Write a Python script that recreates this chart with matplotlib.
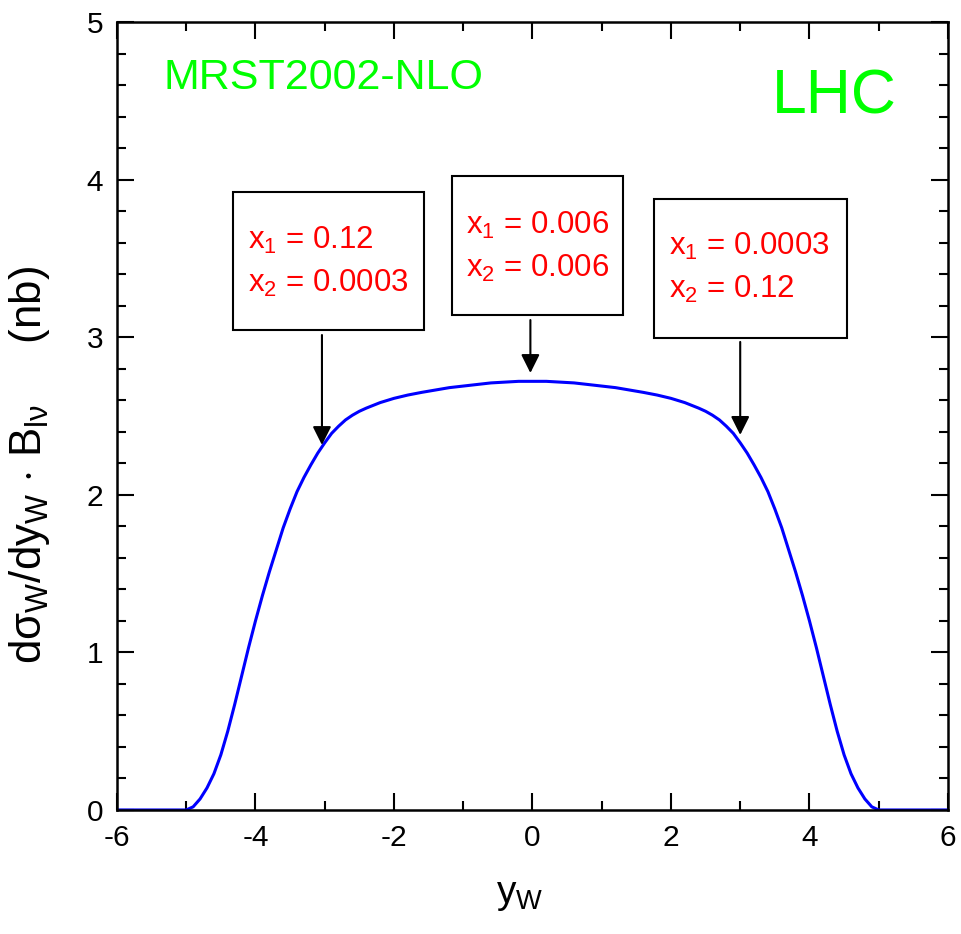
import numpy as np
import matplotlib
matplotlib.use("Agg")
import matplotlib.pyplot as plt
from matplotlib.patches import Rectangle
from matplotlib.ticker import MultipleLocator

plt.rcParams['font.family'] = ['Liberation Sans', 'DejaVu Sans']
plt.rcParams['mathtext.fontset'] = 'custom'
plt.rcParams['mathtext.rm'] = 'Liberation Sans'
plt.rcParams['mathtext.it'] = 'Liberation Sans'
plt.rcParams['mathtext.bf'] = 'Liberation Sans:bold'
plt.rcParams['axes.unicode_minus'] = False

# rapidity distribution
y_w = [-6.0, -5.0, -4.9, -4.8, -4.7, -4.6, -4.5, -4.4, -4.3, -4.2, -4.1,
       -4.0, -3.9, -3.8, -3.7, -3.6, -3.5, -3.4, -3.3, -3.2, -3.1,
       -3.0, -2.9, -2.8, -2.7, -2.6, -2.5, -2.4, -2.2, -2.0, -1.8,
       -1.6, -1.4, -1.2, -1.0, -0.8, -0.6, -0.4, -0.2, 0.0,
       0.2, 0.4, 0.6, 0.8, 1.0, 1.2, 1.4, 1.6, 1.8, 2.0,
       2.2, 2.4, 2.5, 2.6, 2.7, 2.8, 2.9, 3.0,
       3.1, 3.2, 3.3, 3.4, 3.5, 3.6, 3.7, 3.8, 3.9, 4.0,
       4.1, 4.2, 4.3, 4.4, 4.5, 4.6, 4.7, 4.8, 4.9, 5.0, 6.0]
dsig = [0.0, 0.0, 0.02, 0.07, 0.14, 0.23, 0.35, 0.50, 0.67, 0.85, 1.03,
        1.20, 1.36, 1.51, 1.65, 1.79, 1.91, 2.02, 2.11, 2.19, 2.265,
        2.33, 2.39, 2.435, 2.475, 2.505, 2.53, 2.55, 2.585, 2.612, 2.633,
        2.65, 2.665, 2.68, 2.69, 2.70, 2.71, 2.715, 2.72, 2.72,
        2.72, 2.715, 2.71, 2.70, 2.69, 2.68, 2.665, 2.65, 2.633, 2.612,
        2.585, 2.55, 2.53, 2.505, 2.475, 2.435, 2.39, 2.33,
        2.265, 2.19, 2.11, 2.02, 1.91, 1.79, 1.65, 1.51, 1.36, 1.20,
        1.03, 0.85, 0.67, 0.50, 0.35, 0.23, 0.14, 0.07, 0.02, 0.0, 0.0]

# annotation boxes: (x0, y0, x1, y1), text pos, arrow (x, y_start, y_tip)
box_rects = [(-4.325, 3.046, -1.567, 3.921),
             (-1.162, 3.141, 1.307, 4.023),
             (1.755, 2.995, 4.542, 3.877)]
box_labels = [("0.12", "0.0003"), ("0.006", "0.006"), ("0.0003", "0.12")]
text_x = [-4.108, -0.96, 1.971]
text_y1 = [3.617, 3.712, 3.579]
text_y2 = [3.344, 3.439, 3.30]
arrow_x = [-3.04, -0.03, 3.0]
arrow_from = [3.014, 3.109, 2.97]
arrow_to = [2.316, 2.773, 2.38]

fig = plt.figure(figsize=(9.62, 9.34), dpi=100)
ax = fig.add_axes([0.1216, 0.1328, 0.8638, 0.8436])

ax.plot(y_w, dsig, color='#0000ff', lw=2.2)

for (x0, y0, x1, y1), (a, b), tx, ty1, ty2 in zip(box_rects, box_labels, text_x, text_y1, text_y2):
    ax.add_patch(Rectangle((x0, y0), x1 - x0, y1 - y0, fill=False,
                           edgecolor='black', lw=1.5, zorder=3))
    ax.text(tx, ty1, r"x$_1$ = " + a, color='#ff0000', fontsize=22.5, va='center', ha='left')
    ax.text(tx, ty2, r"x$_2$ = " + b, color='#ff0000', fontsize=22.5, va='center', ha='left')

for ax_x, y0, y1 in zip(arrow_x, arrow_from, arrow_to):
    ax.annotate('', xy=(ax_x, y1), xytext=(ax_x, y0),
                arrowprops=dict(arrowstyle='-|>', color='black', lw=1.5,
                                mutation_scale=28, shrinkA=0, shrinkB=0))

ax.text(0.0554, 0.929, "MRST2002-NLO", transform=ax.transAxes, color='#00ff00',
        fontsize=31, va='center', ha='left')
ax.text(0.788, 0.905, "LHC", transform=ax.transAxes, color='#00ff00',
        fontsize=45, va='center', ha='left')

ax.set_xlim(-6, 6)
ax.set_ylim(0, 5)
ax.xaxis.set_major_locator(MultipleLocator(2))
ax.xaxis.set_minor_locator(MultipleLocator(1))
ax.yaxis.set_major_locator(MultipleLocator(1))
ax.yaxis.set_minor_locator(MultipleLocator(0.2))
ax.tick_params(which='both', direction='in', top=True, right=True, width=1.5,
               labelsize=21.5, pad=10)
ax.tick_params(which='major', length=12)
ax.tick_params(which='minor', length=6.5)
for s in ax.spines.values():
    s.set_linewidth(1.8)

ax.set_xlabel(r"y$_\mathrm{W}$", fontsize=28)
ax.xaxis.set_label_coords(0.485, -0.085)
ax.set_ylabel(r"dσ$_\mathrm{W}$/dy$_\mathrm{W}$ $\cdot$ B$_{\mathrm{l}ν}$     (nb)", fontsize=31.5)
ax.yaxis.set_label_coords(-0.078, 0.438)

fig.savefig("out.png", dpi=100)
